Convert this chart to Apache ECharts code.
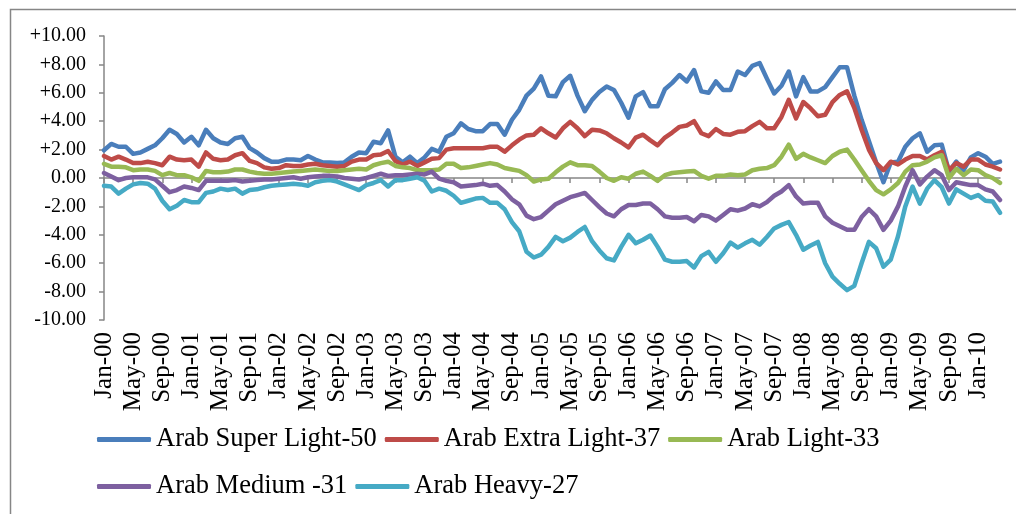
<!DOCTYPE html>
<html>
<head>
<meta charset="utf-8">
<title>Arab crude differentials</title>
<script src="https://cdn.jsdelivr.net/npm/echarts@6/dist/echarts.min.js"></script>
<style>
  html, body { margin: 0; padding: 0; background: #fff; }
  #chart { width: 1016px; height: 514px; }
</style>
</head>
<body>
<div id="chart"></div>
<script>
// monthly categories Jan-00 .. Apr-10
const monthNames = ['Jan', 'Feb', 'Mar', 'Apr', 'May', 'Jun', 'Jul', 'Aug', 'Sep', 'Oct', 'Nov', 'Dec']
const yearLabels = ['00', '01', '02', '03', '04', '05', '06', '07', '08', '09', '10']
const lastMonthOf2010 = 4
const categories = []
yearLabels.forEach((yy, yi) => {
  const count = yi === yearLabels.length - 1 ? lastMonthOf2010 : 12
  for (let m = 0; m < count; m++) categories.push(monthNames[m] + '-' + yy)
})

const seriesNames = ['Arab Super Light-50', 'Arab Extra Light-37', 'Arab Light-33', 'Arab Medium -31', 'Arab Heavy-27']

const superLight = [
  1.95, 2.4, 2.2, 2.2, 1.7, 1.8, 2.05, 2.3, 2.8, 3.4, 3.1, 2.5, 2.9, 2.3, 3.4, 2.8, 2.5, 2.4,
  2.8, 2.9, 2.1, 1.8, 1.4, 1.15, 1.15, 1.3, 1.3, 1.25, 1.55, 1.3, 1.1, 1.1, 1.05, 1.1, 1.5, 1.8,
  1.75, 2.55, 2.45, 3.35, 1.5, 1.1, 1.5, 1.05, 1.45, 2.05, 1.85, 2.9, 3.15, 3.85, 3.45, 3.3, 3.3, 3.8,
  3.8, 3.05, 4.1, 4.8, 5.8, 6.3, 7.15, 5.8, 5.75, 6.75, 7.2, 5.8, 4.7, 5.5, 6.05, 6.45, 6.2, 5.3,
  4.25, 5.75, 6.05, 5.05, 5.05, 6.25, 6.7, 7.25, 6.8, 7.6, 6.1, 6.0, 6.8, 6.2, 6.2, 7.5, 7.25, 7.9,
  8.1, 7.0, 5.95, 6.5, 7.5, 5.75, 7.1, 6.1, 6.1, 6.4, 7.1, 7.8, 7.8, 5.8, 4.1, 2.6, 1.1, -0.3,
  1.1, 1.15, 2.2, 2.8, 3.15, 1.85, 2.3, 2.35, 0.45, 1.15, 0.55, 1.45, 1.75, 1.5, 1.0, 1.15
]
const extraLight = [
  1.55, 1.3, 1.5, 1.3, 1.05, 1.05, 1.15, 1.05, 0.9, 1.5, 1.3, 1.25, 1.3, 0.8, 1.8, 1.35, 1.25, 1.3,
  1.6, 1.75, 1.2, 1.05, 0.75, 0.65, 0.7, 0.9, 0.85, 0.85, 0.95, 1.0, 0.9, 0.85, 0.8, 0.85, 1.15, 1.3,
  1.3, 1.6, 1.65, 1.9, 1.2, 0.95, 1.15, 0.85, 1.1, 1.35, 1.4, 2.0, 2.1, 2.1, 2.1, 2.1, 2.1, 2.2,
  2.2, 1.85, 2.3, 2.7, 3.0, 3.05, 3.5, 3.15, 2.85, 3.5, 3.95, 3.5, 2.95, 3.4, 3.35, 3.15, 2.8, 2.5,
  2.15, 2.85, 3.05, 2.65, 2.3, 2.85, 3.2, 3.6, 3.7, 4.0, 3.15, 2.95, 3.45, 3.1, 3.05, 3.25, 3.3, 3.65,
  3.95, 3.5, 3.5, 4.3, 5.5, 4.2, 5.35, 4.9, 4.35, 4.45, 5.35, 5.85, 6.1, 4.95, 3.4, 2.0, 1.05, 0.55,
  1.15, 0.95, 1.3, 1.55, 1.55, 1.3, 1.6, 1.85, 0.55, 1.05, 0.8, 1.3, 1.3, 0.95, 0.8, 0.6
]
const light = [
  1.0, 0.8, 0.8, 0.75, 0.55, 0.6, 0.6, 0.5, 0.2, 0.35, 0.2, 0.2, 0.05, -0.2, 0.5, 0.4, 0.4, 0.45,
  0.6, 0.6, 0.45, 0.35, 0.3, 0.3, 0.35, 0.4, 0.45, 0.5, 0.55, 0.6, 0.55, 0.5, 0.5, 0.55, 0.6, 0.65,
  0.6, 0.9, 1.05, 1.15, 0.85, 0.75, 0.7, 0.55, 0.55, 0.55, 0.6, 1.0, 1.0, 0.7, 0.75, 0.85, 0.95, 1.05,
  0.95, 0.7, 0.6, 0.5, 0.2, -0.25, -0.1, -0.05, 0.4, 0.8, 1.1, 0.9, 0.9, 0.85, 0.45, 0.0, -0.2, 0.05,
  -0.05, 0.3, 0.45, 0.15, -0.2, 0.2, 0.35, 0.4, 0.45, 0.5, 0.15, -0.05, 0.15, 0.15, 0.25, 0.2, 0.25, 0.55,
  0.65, 0.7, 0.9, 1.5, 2.35, 1.35, 1.7, 1.45, 1.25, 1.05, 1.55, 1.85, 2.0, 1.3, 0.55, -0.2, -0.85, -1.15,
  -0.8, -0.35, 0.45, 0.9, 0.95, 1.15, 1.45, 1.6, 0.0, 0.65, 0.2, 0.6, 0.55, 0.2, 0.0, -0.35
]
const medium = [
  0.35, 0.1, -0.15, 0.0, 0.05, 0.05, 0.05, -0.1, -0.55, -1.0, -0.85, -0.6, -0.7, -0.85, -0.2, -0.2, -0.2, -0.2,
  -0.15, -0.25, -0.2, -0.15, -0.1, -0.1, -0.05, 0.0, 0.05, -0.05, 0.05, 0.1, 0.15, 0.15, 0.1, 0.0, -0.05, -0.1,
  0.0, 0.15, 0.3, 0.15, 0.2, 0.2, 0.25, 0.3, 0.25, 0.45, -0.05, -0.2, -0.3, -0.6, -0.55, -0.5, -0.4, -0.55,
  -0.5, -0.95, -1.5, -1.85, -2.65, -2.9, -2.75, -2.3, -1.85, -1.6, -1.35, -1.2, -1.05, -1.55, -2.05, -2.5, -2.7, -2.2,
  -1.9, -1.9, -1.8, -1.8, -2.2, -2.7, -2.8, -2.8, -2.75, -3.05, -2.6, -2.7, -3.0, -2.6, -2.2, -2.3, -2.15, -1.85,
  -2.0, -1.7, -1.25, -0.95, -0.5, -1.3, -1.8, -1.75, -1.75, -2.7, -3.15, -3.4, -3.65, -3.65, -2.75, -2.2, -2.7, -3.65,
  -3.0, -2.0, -0.6, 0.55, -0.45, 0.1, 0.55, 0.2, -0.85, -0.3, -0.4, -0.5, -0.5, -0.8, -0.95, -1.55
]
const heavy = [
  -0.55, -0.6, -1.1, -0.75, -0.45, -0.35, -0.4, -0.75, -1.6, -2.2, -1.95, -1.55, -1.7, -1.7, -1.05, -0.95, -0.75, -0.85,
  -0.75, -1.1, -0.85, -0.8, -0.65, -0.55, -0.5, -0.45, -0.4, -0.45, -0.55, -0.3, -0.2, -0.15, -0.25, -0.45, -0.65, -0.85,
  -0.5, -0.35, -0.15, -0.6, -0.15, -0.15, -0.05, 0.05, -0.2, -0.95, -0.75, -0.9, -1.25, -1.75, -1.6, -1.45, -1.4, -1.75,
  -1.75, -2.2, -3.1, -3.75, -5.2, -5.6, -5.4, -4.85, -4.15, -4.45, -4.2, -3.8, -3.45, -4.45, -5.1, -5.65, -5.8, -4.85,
  -4.0, -4.6, -4.35, -4.05, -4.85, -5.75, -5.9, -5.9, -5.85, -6.3, -5.5, -5.2, -5.9, -5.3, -4.55, -4.9, -4.6, -4.35,
  -4.7, -4.15, -3.55, -3.3, -3.1, -4.0, -5.05, -4.75, -4.5, -6.0, -6.95, -7.45, -7.9, -7.6, -6.0, -4.5, -4.95, -6.25,
  -5.75, -4.1, -2.0, -0.6, -1.8, -0.75, -0.15, -0.65, -1.8, -0.8, -1.1, -1.4, -1.2, -1.6, -1.65, -2.45
]

const seriesData = [superLight, extraLight, light, medium, heavy]
const seriesColors = ['#4a7ebb', '#be4b48', '#98b954', '#7d60a0', '#46aac5']

const yMin = -10
const yMax = 10
const yStep = 2

const serif = '"Liberation Serif", "Times New Roman", serif'
const axisGray = '#868686'

const chart = echarts.init(document.getElementById('chart'), null, { renderer: 'canvas' })

// two legend rows, fixed text width so the second row lines up in columns
const legendBase = {
  left: 97,
  padding: 0,
  orient: 'horizontal',
  icon: 'roundRect',
  itemWidth: 54,
  itemHeight: 5,
  itemGap: 8,
  textStyle: { fontFamily: serif, fontSize: 26.5, color: '#000', width: 220 },
}

chart.setOption({
  animation: false,
  backgroundColor: '#fff',
  graphic: [
    {
      type: 'rect',
      left: 8,
      top: 7,
      shape: { width: 1030, height: 530 },
      style: { fill: 'none', stroke: axisGray, lineWidth: 1.5 },
      silent: true,
    },
  ],
  legend: [
    Object.assign({}, legendBase, { top: 426, data: seriesNames.slice(0, 3) }),
    Object.assign({}, legendBase, { top: 473, data: seriesNames.slice(3) }),
  ],
  grid: { left: 104, right: 16, top: 36, bottom: 194, containLabel: false },
  xAxis: [
    {
      type: 'category',
      data: categories,
      boundaryGap: false,
      axisLine: { onZero: true, lineStyle: { color: axisGray, width: 1.5 } },
      axisTick: { show: true, interval: 3, length: 5, lineStyle: { color: axisGray, width: 1.5 } },
      axisLabel: { show: false },
      splitLine: { show: false },
    },
    {
      type: 'category',
      data: categories,
      position: 'bottom',
      boundaryGap: false,
      axisLine: { show: false, onZero: false },
      axisTick: { show: false },
      axisLabel: {
        interval: 3,
        rotate: 90,
        margin: 12,
        fontFamily: serif,
        fontSize: 25,
        color: '#000',
      },
      splitLine: { show: false },
    },
  ],
  yAxis: {
    type: 'value',
    min: yMin,
    max: yMax,
    interval: yStep,
    axisLine: { show: true, lineStyle: { color: axisGray, width: 1.5 } },
    axisTick: { show: true, length: 5, lineStyle: { color: axisGray, width: 1.5 } },
    splitLine: { show: false },
    axisLabel: {
      margin: 18,
      fontFamily: serif,
      fontSize: 20,
      color: '#000',
      formatter: v => (v > 0 ? '+' : '') + v.toFixed(2),
    },
  },
  series: seriesNames.map((name, idx) => ({
    name,
    type: 'line',
    xAxisIndex: 0,
    data: seriesData[idx],
    symbol: 'none',
    showSymbol: false,
    smooth: false,
    color: seriesColors[idx],
    lineStyle: { width: 4.5, color: seriesColors[idx], cap: 'round', join: 'round' },
  })),
})
</script>
</body>
</html>
